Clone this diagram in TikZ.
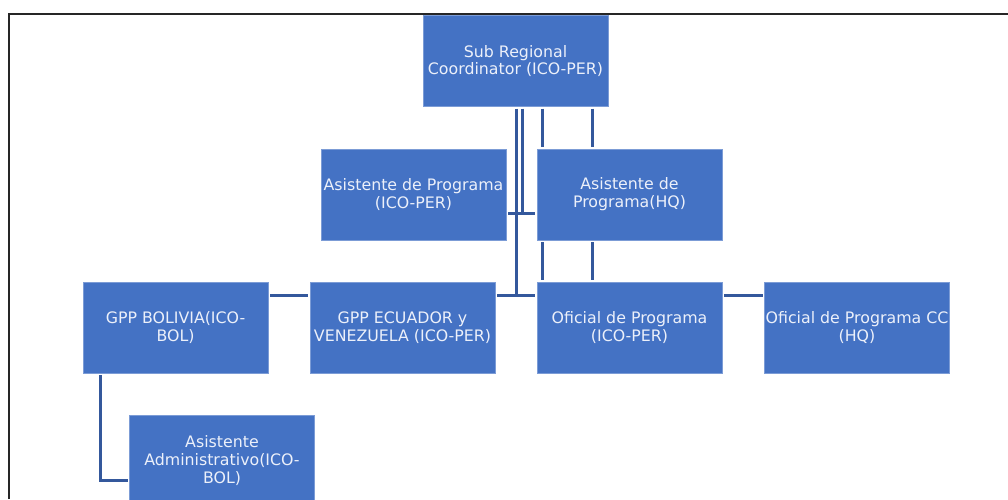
\documentclass[tikz,border=0pt]{standalone}
\usepackage{fontspec}
\setmainfont{DejaVu Sans}
\definecolor{boxblue}{RGB}{68,114,196}
\definecolor{linkblue}{RGB}{52,88,156}
\definecolor{boxtext}{RGB}{236,240,250}
\begin{document}
\begin{tikzpicture}[x=1pt, y=-1pt,
	unit/.style={fill=boxblue, draw=boxblue!70!white, line width=0.6pt, minimum width=185, minimum height=91, inner sep=0pt, outer sep=2pt, align=center, text=boxtext, font=\fontsize{15.8}{17.8}\selectfont},
	link/.style={draw=linkblue, line width=3pt}]
	\useasboundingbox (0,0) rectangle (1008,499);
	\clip (0,0) rectangle (1008,499);
	% frame
	\draw[line width=2pt, black!85] (9,499) -- (9,14) -- (1008,14);
	% units
	\node[unit] (sub) at (515.5,61) {Sub Regional\\Coordinator (ICO-PER)};
	\node[unit] (asi) at (413.5,194.5) {Asistente de Programa\\(ICO-PER)};
	\node[unit] (hq) at (629.5,194.5) {Asistente de\\Programa(HQ)};
	\node[unit] (bol) at (175.5,327.5) {GPP BOLIVIA(ICO-\\BOL)};
	\node[unit] (ecu) at (402.5,327.5) {GPP ECUADOR y\\VENEZUELA (ICO-PER)};
	\node[unit] (ofi) at (629.5,327.5) {Oficial de Programa\\(ICO-PER)};
	\node[unit] (occ) at (857,327.5) {Oficial de Programa CC\\(HQ)};
	\node[unit] (adm) at (222,460.5) {Asistente\\Administrativo(ICO-\\BOL)};
	% connectors
	\coordinate (j1) at (516,295);
	\coordinate (j2) at (522,213);
	\coordinate (k1) at (542,0);
	\coordinate (k2) at (592,0);
	\coordinate (m) at (100,480);
	\draw[link] (sub.south -| j1) -- (j1);
	\draw[link] (ecu.east |- j1) -- (ofi.west |- j1);
	\draw[link] (sub.south -| j2) -- (j2);
	\draw[link] (asi.east |- j2) -- (hq.west |- j2);
	\draw[link] (sub.south -| k1) -- (hq.north -| k1);
	\draw[link] (sub.south -| k2) -- (hq.north -| k2);
	\draw[link] (hq.south -| k1) -- (ofi.north -| k1);
	\draw[link] (hq.south -| k2) -- (ofi.north -| k2);
	\draw[link] (bol.east |- j1) -- (ecu.west |- j1);
	\draw[link] (ofi.east |- j1) -- (occ.west |- j1);
	\draw[link] (bol.south -| m) -- (m) -- (adm.west |- m);
\end{tikzpicture}
\end{document}
